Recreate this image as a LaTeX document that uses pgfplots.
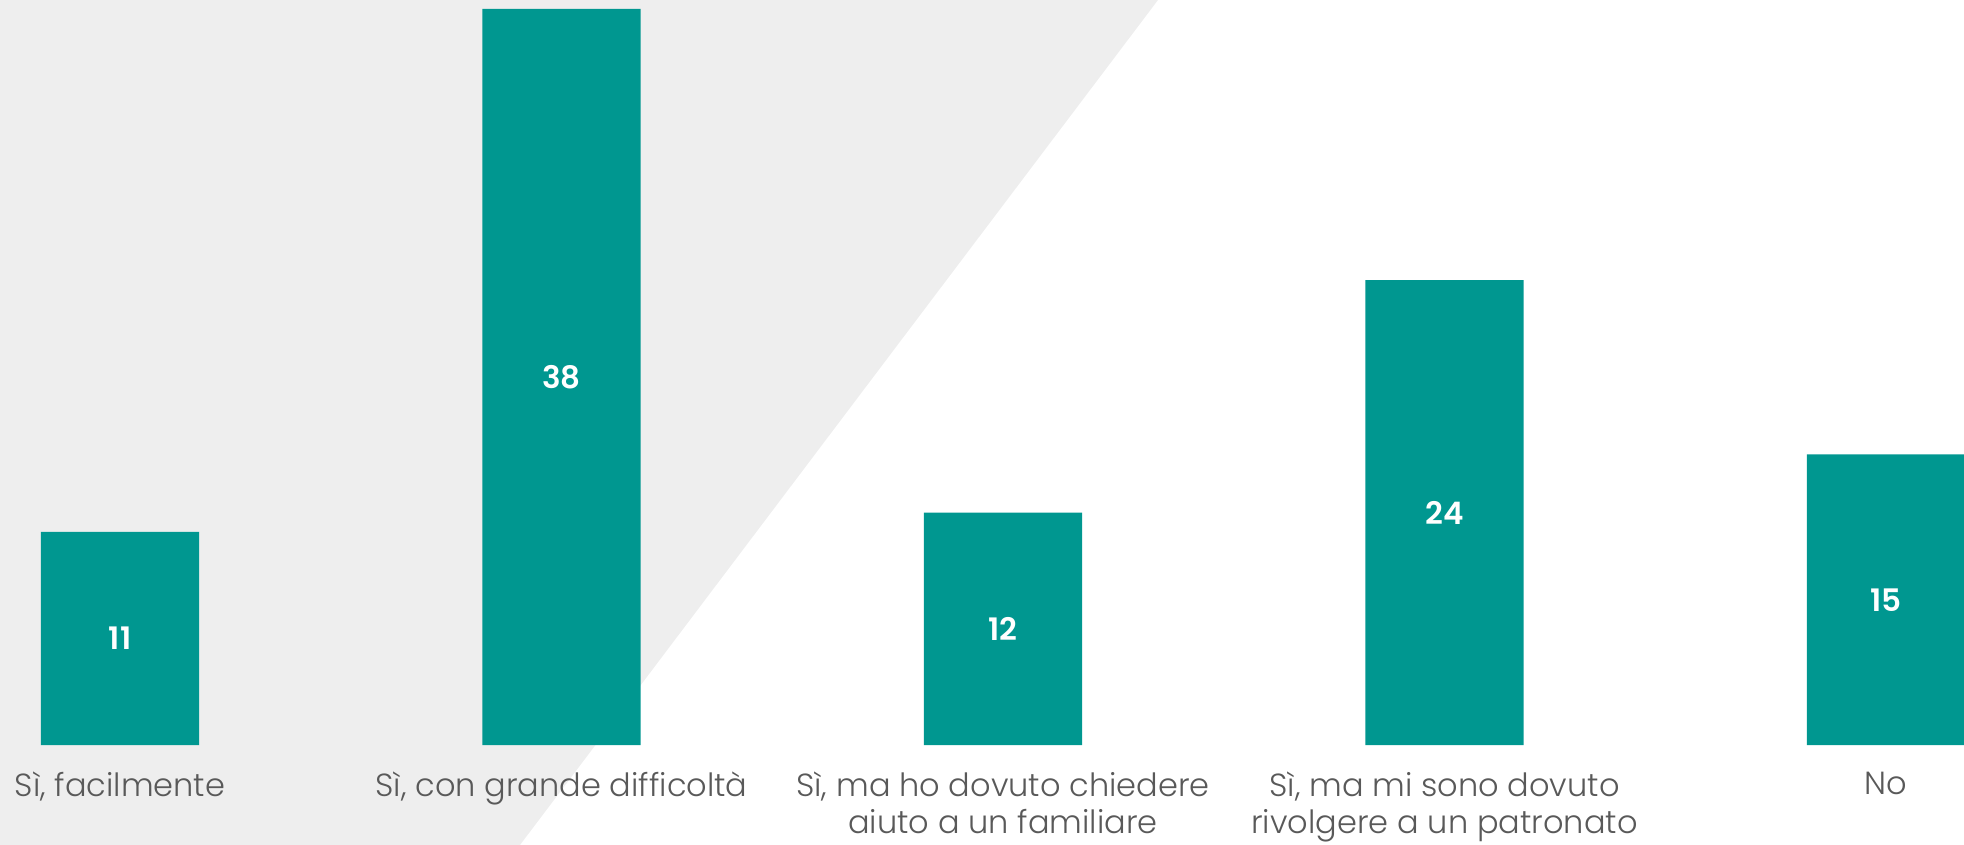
\documentclass[border=0pt]{standalone}
\usepackage{pgfplots}
\pgfplotsset{compat=1.18}
\usepackage{fontspec}
\setmainfont{Poppins}[UprightFont=* Light, BoldFont=* SemiBold]
\definecolor{barteal}{RGB}{0,151,144}
\definecolor{bggrey}{RGB}{238,238,238}
\definecolor{labelgrey}{RGB}{89,89,89}
\begin{document}
\begin{tikzpicture}
\fill[bggrey] (0bp,-50bp) -- (0bp,372.5bp) -- (579bp,372.5bp) -- (260bp,-50bp) -- cycle;
\begin{axis}[
  at={(0bp,0bp)}, anchor=south west,
  scale only axis, width=982bp, height=372.5bp,
  xmin=-0.2718, xmax=4.1767, ymin=0, ymax=38.46,
  ybar, bar width=0.358,
  axis line style={draw=none},
  ytick=\empty,
  xtick={0,1,2,3,4},
  major tick length=0pt,
  /pgf/number format/assume math mode=true,
  xticklabels={{Sì, facilmente},{Sì, con grande difficoltà},{Sì, ma ho dovuto chiedere\\aiuto a un familiare},{Sì, ma mi sono dovuto\\rivolgere a un patronato},{No}},
  xticklabel style={align=center, font=\fontsize{16bp}{18.5bp}\selectfont, text=labelgrey, anchor=north, yshift=-10bp},
  nodes near coords,
  visualization depends on={y \as \rawy},
  every node near coord/.append style={anchor=center, text=white, font=\bfseries\fontsize{15.5bp}{18bp}\selectfont, shift={(axis direction cs:0,-\rawy/2)}},
]
\addplot[fill=barteal, draw=none] coordinates {(0,11) (1,38) (2,12) (3,24) (4,15)};
\end{axis}
\pgfresetboundingbox
\useasboundingbox (0bp,-50bp) rectangle (982bp,372.5bp);
\end{tikzpicture}
\end{document}
